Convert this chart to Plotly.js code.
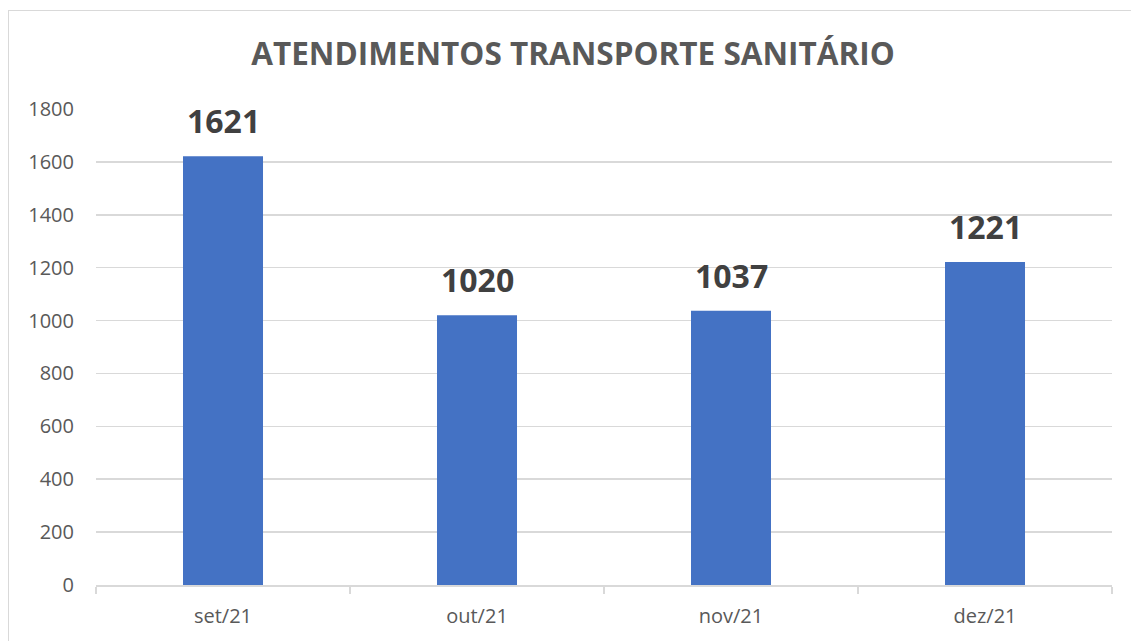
<!DOCTYPE html>
<html>
<head>
<meta charset="utf-8">
<script src="https://cdn.plot.ly/plotly-3.0.1.min.js"></script>
<style>
html,body{margin:0;padding:0;background:#fff;overflow:hidden;}
#chart{width:1131px;height:641px;}
#frame{position:absolute;left:8px;top:10px;width:1200px;height:700px;border:1.5px solid #d9d9d9;pointer-events:none;}
</style>
</head>
<body>
<div id="chart"></div>
<div id="frame"></div>
<script>
const months = ["set/21", "out/21", "nov/21", "dez/21"];
const atendimentos = [1621, 1020, 1037, 1221];
const yTicks = [0, 200, 400, 600, 800, 1000, 1200, 1400, 1600, 1800];
const chartTitle = "ATENDIMENTOS TRANSPORTE SANITÁRIO";

const trace = {
  type: "bar",
  x: months,
  y: atendimentos,
  marker: {color: "#4472C4"},
  hoverinfo: "none"
};

const labels = months.map((m, i) => ({
  x: m,
  y: atendimentos[i],
  xref: "x", yref: "y",
  text: "<b>" + atendimentos[i] + "</b>",
  showarrow: false,
  yanchor: "bottom",
  yshift: 12,
  font: {family: "Open Sans, sans-serif", size: 32, color: "#404040"}
}));

const layout = {
  width: 1131,
  height: 641,
  paper_bgcolor: "#ffffff",
  plot_bgcolor: "#ffffff",
  margin: {l: 96, r: 19, t: 109, b: 56},
  bargap: 0.685,
  showlegend: false,
  annotations: labels,
  title: {
    text: "<b>" + chartTitle + "</b>",
    font: {family: "Open Sans, sans-serif", size: 31.5, color: "#595959"},
    xref: "container", x: 573/1131, xanchor: "center",
    yref: "container", y: 1 - 54/641, yanchor: "middle"
  },
  xaxis: {
    type: "category",
    tickfont: {family: "Open Sans, sans-serif", size: 20, color: "#595959"},
    showline: true, linecolor: "#d9d9d9", linewidth: 1.5,
    ticks: "outside", tickson: "boundaries", ticklen: 7, tickcolor: "#d9d9d9", tickwidth: 1.5,
    ticklabelstandoff: 12,
    showgrid: false, zeroline: false
  },
  yaxis: {
    range: [0, 1800],
    tickvals: yTicks,
    ticktext: yTicks.map(String),
    tickfont: {family: "Open Sans, sans-serif", size: 20, color: "#595959"},
    showgrid: true, gridcolor: "#d9d9d9", gridwidth: 1.5,
    zeroline: false, showline: false, ticks: "", ticklabelstandoff: 21
  }
};

Plotly.newPlot("chart", [trace], layout, {displayModeBar: false, staticPlot: true});
</script>
</body>
</html>
